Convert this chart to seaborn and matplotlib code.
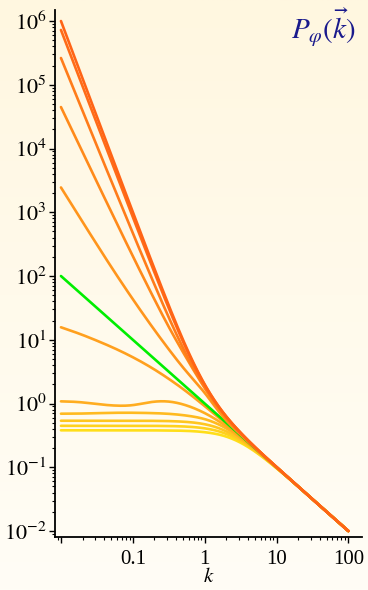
import numpy as np
import pandas as pd
import matplotlib
matplotlib.use("Agg")
import matplotlib.pyplot as plt
import seaborn as sns
from matplotlib.ticker import LogLocator, NullFormatter, FixedLocator, FixedFormatter

# ---------------- data ----------------
k = [0.01, 0.0178, 0.0316, 0.0562, 0.1, 0.178, 0.316, 0.562, 1.0,
     1.78, 3.16, 5.62, 10.0, 17.8, 31.6, 56.2, 100.0]

p_c1 = [1.0e6, 1.78e5, 3.17e4, 5.64e3, 1010, 183, 34.8, 7.40, 2.00,
        0.740, 0.348, 0.183, 0.101, 0.0564, 0.0316, 0.0178, 0.0100]
p_c2 = [7.24e5, 1.33e5, 2.46e4, 4.54e3, 842, 159, 31.4, 6.97, 1.96,
        0.735, 0.348, 0.183, 0.101, 0.0564, 0.0316, 0.0178, 0.0100]
p_c3 = [2.63e5, 5.39e4, 1.10e4, 2.27e3, 471, 100, 22.5, 5.73, 1.81,
        0.720, 0.347, 0.183, 0.101, 0.0564, 0.0316, 0.0178, 0.0100]
p_c4 = [4.47e4, 1.15e4, 2.99e3, 777, 205, 55.7, 16.0, 5.09, 1.75,
        0.700, 0.336, 0.181, 0.101, 0.0563, 0.0316, 0.0178, 0.0100]
p_c5 = [2.45e3, 868, 312, 114, 43.3, 17.1, 7.11, 3.14, 1.47,
        0.630, 0.326, 0.179, 0.100, 0.0563, 0.0316, 0.0178, 0.0100]
p_green = [100, 56.2, 31.6, 17.8, 10.0, 5.62, 3.16, 1.78, 1.00,
           0.562, 0.316, 0.178, 0.100, 0.0562, 0.0316, 0.0178, 0.0100]
p_c7 = [15.7, 12.5, 9.68, 7.31, 5.32, 3.70, 2.44, 1.53, 0.912,
        0.535, 0.309, 0.176, 0.0998, 0.0562, 0.0316, 0.0178, 0.0100]
p_c8 = [1.081, 1.052, 0.982, 0.929, 0.944, 1.052, 1.072, 0.930, 0.708,
        0.480, 0.295, 0.175, 0.0991, 0.0561, 0.0316, 0.0178, 0.0100]
p_c9 = [0.692, 0.695, 0.705, 0.715, 0.716, 0.708, 0.689, 0.646, 0.569,
        0.437, 0.288, 0.172, 0.0990, 0.0561, 0.0316, 0.0178, 0.0100]
p_c10 = [0.537, 0.537, 0.537, 0.537, 0.537, 0.535, 0.530, 0.514, 0.473,
         0.388, 0.272, 0.169, 0.0983, 0.0560, 0.0316, 0.0178, 0.0100]
p_c11 = [0.447, 0.447, 0.447, 0.447, 0.447, 0.446, 0.443, 0.434, 0.408,
         0.350, 0.258, 0.165, 0.0975, 0.0560, 0.0316, 0.0178, 0.0100]
p_c12 = [0.380, 0.380, 0.380, 0.380, 0.380, 0.379, 0.377, 0.372, 0.355,
         0.315, 0.243, 0.161, 0.0967, 0.0559, 0.0316, 0.0178, 0.0100]

curves = ["c12", "c11", "c10", "c9", "c8", "c7", "green", "c5", "c4", "c3", "c2", "c1"]
values = {"c1": p_c1, "c2": p_c2, "c3": p_c3, "c4": p_c4, "c5": p_c5,
          "green": p_green, "c7": p_c7, "c8": p_c8, "c9": p_c9,
          "c10": p_c10, "c11": p_c11, "c12": p_c12}
colors = {"c1": "#ff6416", "c2": "#ff6c18", "c3": "#ff7c1a", "c4": "#ff8a1a",
          "c5": "#ff951c", "green": "#00ee00", "c7": "#ffa01e", "c8": "#ffad20",
          "c9": "#ffba20", "c10": "#ffc620", "c11": "#ffd21e", "c12": "#ffde1a"}


def natural_spline(x, y, xn):
    x = np.asarray(x, float); y = np.asarray(y, float)
    n = len(x)
    h = np.diff(x)
    A = np.zeros((n, n)); r = np.zeros(n)
    A[0, 0] = 1.0; A[-1, -1] = 1.0
    for i in range(1, n - 1):
        A[i, i - 1] = h[i - 1]
        A[i, i] = 2 * (h[i - 1] + h[i])
        A[i, i + 1] = h[i]
        r[i] = 6 * ((y[i + 1] - y[i]) / h[i] - (y[i] - y[i - 1]) / h[i - 1])
    M = np.linalg.solve(A, r)
    idx = np.clip(np.searchsorted(x, xn) - 1, 0, n - 2)
    x0 = x[idx]; x1 = x[idx + 1]; hh = h[idx]
    a = (x1 - xn) / hh; b = (xn - x0) / hh
    return (a * y[idx] + b * y[idx + 1]
            + ((a**3 - a) * M[idx] + (b**3 - b) * M[idx + 1]) * hh**2 / 6)


lk = np.log10(k)
fine = np.linspace(lk[0], lk[-1], 500)
frames = []
for c in curves:
    ly = natural_spline(lk, np.log10(values[c]), fine)
    frames.append(pd.DataFrame({"k": 10**fine, "P": 10**ly, "curve": c}))
df = pd.concat(frames, ignore_index=True)

# ---------------- figure ----------------
sns.set_theme(style="ticks")
plt.rcParams["font.family"] = ["Liberation Serif", "DejaVu Serif"]
plt.rcParams["mathtext.fontset"] = "stix"

W, H = 368, 590
fig = plt.figure(figsize=(W / 100, H / 100), dpi=100)

# background gradient
bg = fig.add_axes([0, 0, 1, 1], zorder=-5)
top = np.array([255, 247, 224]) / 255.0
bot = np.array([255, 253, 246]) / 255.0
g = np.linspace(0, 1, 256)[:, None]
img = (top[None, :] * (1 - g) + bot[None, :] * g)[:, None, :]
bg.imshow(img, aspect="auto", extent=[0, 1, 0, 1])
bg.set_axis_off()

ax = fig.add_axes([55 / W, 1 - 537 / H, (362 - 55) / W, (537 - 10) / H])
ax.set_facecolor("none")
ax.set_xscale("log")
ax.set_yscale("log")

sns.lineplot(data=df, x="k", y="P", hue="curve", hue_order=curves,
             palette=colors, estimator=None, sort=False, linewidth=1.9,
             legend=False, ax=ax)
ax.set_xlabel("")
ax.set_ylabel("")

ax.set_xlim(10**-2.083, 10**2.19)
ax.set_ylim(10**-2.094, 10**6.173)

for s in ["top", "right"]:
    ax.spines[s].set_visible(False)
for s in ["left", "bottom"]:
    ax.spines[s].set_color("black")
    ax.spines[s].set_linewidth(1.3)

yt = [1e-2, 1e-1, 1e0, 1e1, 1e2, 1e3, 1e4, 1e5, 1e6]
ylab = [r"$10^{-2}$", r"$10^{-1}$", r"$10^{0}$", r"$10^{1}$", r"$10^{2}$",
        r"$10^{3}$", r"$10^{4}$", r"$10^{5}$", r"$10^{6}$"]
ax.yaxis.set_major_locator(FixedLocator(yt))
ax.yaxis.set_major_formatter(FixedFormatter(ylab))
ax.yaxis.set_minor_locator(LogLocator(base=10, subs=np.arange(2, 10), numticks=30))
ax.yaxis.set_minor_formatter(NullFormatter())

xt = [0.01, 0.1, 1, 10, 100]
xlab = ["", "0.1", "1", "10", "100"]
ax.xaxis.set_major_locator(FixedLocator(xt))
ax.xaxis.set_major_formatter(FixedFormatter(xlab))
ax.xaxis.set_minor_locator(LogLocator(base=10, subs=np.arange(2, 10), numticks=30))
ax.xaxis.set_minor_formatter(NullFormatter())

ax.tick_params(which="major", length=4, width=1.0, color="black", pad=3)
ax.tick_params(which="minor", length=2.5, width=0.8, color="black")
ax.tick_params(axis="y", labelsize=16, labelcolor="black", pad=2)
ax.tick_params(axis="x", labelsize=15, labelcolor="black", pad=5)
ax.grid(False)

fig.text(208.5 / W, 1 - 578 / H, r"$k$", ha="center", va="center",
         fontsize=15, color="black")
fig.text(356 / W, 1 - 28 / H, r"$P_{\varphi}(\vec{k})$", ha="right",
         va="center", fontsize=21, color="#1a1a8c")

fig.savefig("out.png", dpi=100)
